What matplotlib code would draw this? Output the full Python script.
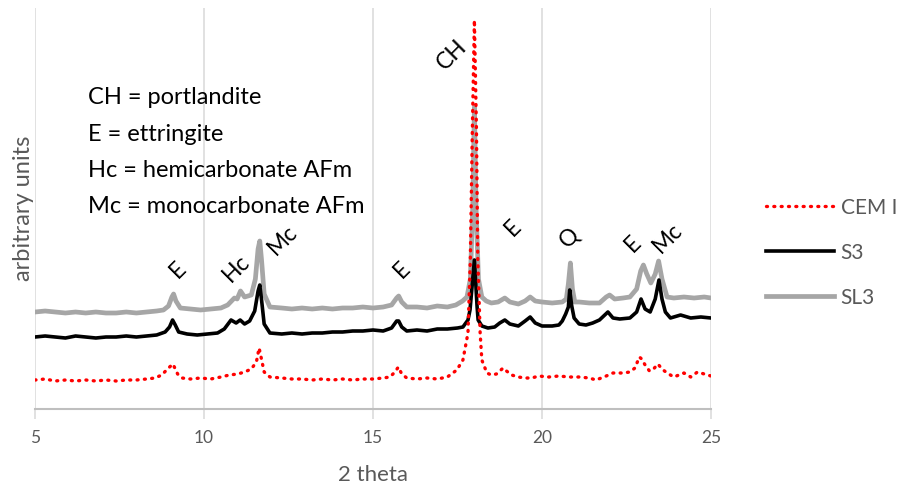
import matplotlib.pyplot as plt

plt.rcParams['font.family'] = ['Lato', 'DejaVu Sans']

#Series (2 theta, arbitrary units)
sl3_x = [5.0, 5.3, 5.6, 5.9, 6.2, 6.5, 6.8, 7.1, 7.4, 7.7, 8.0, 8.3, 8.6, 8.8, 8.95, 9.05, 9.1, 9.17,
         9.3, 9.6, 9.9, 10.2, 10.5, 10.7, 10.9, 10.98, 11.08, 11.2, 11.4, 11.52, 11.6, 11.65, 11.7,
         11.78, 11.95, 12.3, 12.6, 12.9, 13.2, 13.5, 13.8, 14.1, 14.4, 14.7, 15.0, 15.3, 15.55, 15.7,
         15.76, 15.85, 16.0, 16.3, 16.6, 16.9, 17.2, 17.45, 17.65, 17.78, 17.88, 17.95, 18.0, 18.05,
         18.12, 18.22, 18.35, 18.5, 18.7, 18.9, 19.05, 19.3, 19.5, 19.65, 19.8, 20.0, 20.3, 20.6,
         20.72, 20.78, 20.84, 20.9, 20.97, 21.1, 21.4, 21.7, 21.9, 22.0, 22.15, 22.4, 22.6, 22.8,
         22.92, 23.0, 23.1, 23.22, 23.35, 23.45, 23.55, 23.7, 23.9, 24.2, 24.5, 24.8, 25.0]
sl3_y = [97, 98, 97, 96, 97, 96, 97, 96, 96, 97, 96, 97, 98, 99, 103, 112, 115, 108,
         101, 100, 99, 100, 101, 104, 111, 110, 118, 112, 114, 130, 160, 168, 150,
         115, 102, 101, 100, 101, 100, 101, 100, 101, 101, 102, 101, 102, 104, 111,
         113, 107, 102, 102, 101, 103, 102, 104, 108, 112, 130, 200, 302, 200,
         130, 112, 108, 106, 107, 111, 107, 105, 108, 112, 108, 107, 106, 107,
         110, 125, 146, 120, 107, 107, 106, 106, 112, 114, 110, 111, 112, 120,
         138, 144, 135, 126, 135, 148, 130, 112, 111, 112, 111, 112, 111]

s3_x = [5.0, 5.3, 5.6, 5.9, 6.2, 6.5, 6.8, 7.1, 7.4, 7.7, 8.0, 8.3, 8.6, 8.85, 8.98, 9.07, 9.15,
        9.25, 9.5, 9.8, 10.1, 10.4, 10.6, 10.8, 10.95, 11.07, 11.2, 11.35, 11.5, 11.6, 11.65, 11.7,
        11.78, 11.95, 12.3, 12.6, 12.9, 13.2, 13.5, 13.8, 14.1, 14.4, 14.7, 15.0, 15.3, 15.55, 15.7,
        15.76, 15.85, 16.0, 16.3, 16.6, 16.9, 17.2, 17.5, 17.66, 17.81, 17.87, 17.93, 18.0, 18.08,
        18.11, 18.22, 18.4, 18.6, 18.75, 18.9, 19.05, 19.3, 19.5, 19.65, 19.8, 20.0, 20.3, 20.5,
        20.6, 20.7, 20.78, 20.82, 20.88, 20.95, 21.1, 21.3, 21.5, 21.7, 21.95, 22.1, 22.3, 22.6,
        22.8, 22.93, 23.05, 23.2, 23.35, 23.46, 23.55, 23.65, 23.8, 24.1, 24.4, 24.7, 25.0]
s3_y = [72, 73, 72, 71, 73, 72, 71, 72, 72, 73, 72, 73, 74, 77, 82, 89, 84,
        77, 75, 74, 75, 76, 80, 89, 86, 89, 85, 88, 98, 118, 124, 110,
        85, 76, 75, 76, 75, 76, 76, 77, 77, 78, 78, 79, 78, 81, 88,
        88, 82, 78, 79, 78, 80, 80, 81, 82, 89, 99, 122, 149, 102,
        89, 83, 81, 82, 86, 89, 85, 83, 88, 92, 86, 83, 83, 84,
        88, 95, 102, 119, 103, 91, 85, 84, 86, 89, 97, 91, 90, 91,
        97, 110, 100, 97, 110, 129, 110, 97, 91, 94, 91, 92, 91]

cem_x = [5.0, 5.3, 5.6, 5.9, 6.2, 6.5, 6.8, 7.1, 7.4, 7.7, 8.0, 8.3, 8.55, 8.75, 8.95, 9.08, 9.15,
         9.22, 9.35, 9.6, 9.9, 10.2, 10.5, 10.75, 11.0, 11.2, 11.4, 11.55, 11.63, 11.7, 11.78, 11.95,
         12.3, 12.6, 12.9, 13.2, 13.5, 13.8, 14.1, 14.4, 14.7, 15.0, 15.3, 15.5, 15.65, 15.75, 15.85,
         16.0, 16.3, 16.6, 16.9, 17.2, 17.48, 17.66, 17.81, 17.88, 17.94, 18.0, 18.06, 18.1, 18.17,
         18.22, 18.37, 18.5, 18.65, 18.85, 18.95, 19.1, 19.3, 19.5, 19.7, 19.9, 20.2, 20.5, 20.8,
         21.1, 21.4, 21.6, 21.9, 22.1, 22.4, 22.6, 22.75, 22.88, 22.95, 23.05, 23.18, 23.3, 23.43,
         23.55, 23.7, 23.9, 24.2, 24.4, 24.6, 24.8, 25.0]
cem_y = [29, 30, 28, 29, 28, 29, 28, 29, 28, 29, 29, 30, 31, 34, 41, 45, 40,
         35, 31, 30, 31, 30, 32, 34, 35, 37, 40, 47, 61, 50, 37, 32,
         31, 30, 30, 29, 30, 29, 30, 29, 30, 30, 31, 32, 37, 42, 35,
         31, 30, 31, 30, 32, 39, 49, 76, 150, 280, 389, 280, 150, 76,
         49, 36, 34, 35, 41, 38, 34, 32, 31, 31, 33, 32, 33, 32,
         32, 31, 29, 33, 36, 36, 37, 41, 52, 50, 44, 38, 40, 45,
         40, 36, 32, 36, 32, 37, 35, 33]

#Peak labels
peak_labels = ["E", "Hc", "Mc", "E", "CH", "E", "Q", "E", "Mc"]
peak_x = [9.23, 10.95, 12.34, 15.86, 17.34, 19.14, 20.8, 22.69, 23.73]
peak_y = [139, 141, 169, 139, 354, 181, 172, 165, 171]

key_text = ["CH = portlandite", "E = ettringite", "Hc = hemicarbonate AFm", "Mc = monocarbonate AFm"]

fig = plt.figure(figsize=(9.05, 4.91), dpi=100)
ax = fig.add_axes([35 / 905, 82 / 491, 676 / 905, 401 / 491])

gray_line, = ax.plot(sl3_x, sl3_y, color="#a6a6a6", lw=3.4, solid_joinstyle="round", zorder=2)
black_line, = ax.plot(s3_x, s3_y, color="black", lw=2.6, solid_joinstyle="round", zorder=3)
red_line, = ax.plot(cem_x, cem_y, color="#ff0000", lw=2.4, linestyle=(0, (0.3, 1.9)),
                    dash_capstyle="round", zorder=4)

ax.set_xlim(5, 25)
ax.set_ylim(0, 401)
ax.set_xticks([5, 10, 15, 20, 25])
ax.set_yticks([])
ax.grid(axis="x", color="#d9d9d9", lw=1.1)
for s in ["top", "right", "left"]:
    ax.spines[s].set_visible(False)
ax.spines["bottom"].set_color("#bfbfbf")
ax.spines["bottom"].set_linewidth(1.5)
ax.tick_params(axis="x", direction="out", length=7, width=1.1, color="#d9d9d9",
               labelsize=12.5, labelcolor="#595959", pad=8)
ax.set_xlabel("2 theta", fontsize=16, color="#595959", labelpad=14)
ax.set_ylabel("arbitrary units", fontsize=17, color="#595959", labelpad=1)

for lab, px, py in zip(peak_labels, peak_x, peak_y):
    ax.text(px, py, lab, rotation=45, ha="center", va="center", fontsize=16.5)

ax.text(0.079, 0.64, "\n".join(key_text), transform=ax.transAxes, fontsize=17,
        va="center", ha="left", linespacing=1.9)

ax.legend([red_line, black_line, gray_line], ["CEM I", "S3", "SL3"],
          loc="center left", bbox_to_anchor=(1.053, 0.39), frameon=False,
          fontsize=15, labelcolor="#595959", handlelength=3.3, labelspacing=1.2,
          handletextpad=0.3)

plt.savefig("out.png", dpi=100)
plt.close()
